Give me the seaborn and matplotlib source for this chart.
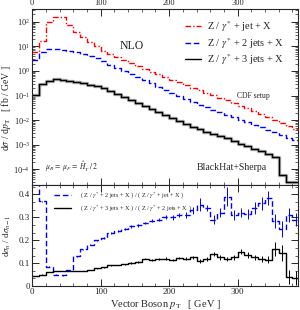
import numpy as np
import pandas as pd
import matplotlib
matplotlib.use("Agg")
import matplotlib.pyplot as plt
from matplotlib.ticker import MultipleLocator, AutoMinorLocator, LogLocator, NullFormatter
import seaborn as sns

# 10 GeV bins, 0 .. 390
edges = np.arange(0, 400, 10)

xs_1jet = [6, 16, 100, 160, 150, 75, 40, 24, 15, 10,
           6.6, 4.8, 3.6, 2.7, 2.1, 1.6, 1.2, 0.92, 0.72, 0.56,
           0.44, 0.35, 0.27, 0.21, 0.17, 0.13, 0.105, 0.081, 0.063, 0.049,
           0.038, 0.030, 0.023, 0.018, 0.0135, 0.0105, 0.008, 0.006, 0.0042]
xs_2jet = [2.8, 5.9, 7.5, 7.8, 7.2, 6.5, 5.7, 4.9, 4.1, 3.4,
           2.45, 1.8, 1.35, 1.0, 0.74, 0.55, 0.41, 0.31, 0.23, 0.17,
           0.13, 0.098, 0.072, 0.055, 0.042, 0.033, 0.026, 0.021, 0.0166, 0.0132,
           0.0105, 0.0083, 0.0066, 0.0051, 0.0040, 0.0032, 0.0025, 0.0019, 0.0015]
xs_3jet = [0.11, 0.29, 0.40, 0.45, 0.43, 0.39, 0.35, 0.31, 0.27, 0.24,
           0.20, 0.15, 0.115, 0.087, 0.066, 0.050, 0.038, 0.029, 0.022, 0.0166,
           0.0126, 0.0095, 0.0072, 0.0055, 0.0043, 0.0034, 0.0027, 0.0022, 0.0018, 0.0014,
           0.0011, 0.0009, 0.0007, 0.00054, 0.00042, 0.00032, 6e-5, 3e-5, 3e-5]

ratio_21 = [0.5, 0.37, 0.085, 0.05, 0.048, 0.07, 0.13, 0.16, 0.18, 0.20,
            0.21, 0.23, 0.24, 0.25, 0.26, 0.265, 0.275, 0.285, 0.29, 0.30,
            0.30, 0.31, 0.31, 0.33, 0.355, 0.34, 0.29, 0.32, 0.39, 0.31,
            0.32, 0.315, 0.34, 0.36, 0.385, 0.285, 0.25, 0.31, 0.29]
err_21 = [0.002, 0.002, 0.002, 0.002, 0.002, 0.002, 0.003, 0.003, 0.003, 0.003,
          0.004, 0.004, 0.004, 0.005, 0.005, 0.006, 0.006, 0.007, 0.008, 0.009,
          0.010, 0.010, 0.012, 0.014, 0.030, 0.015, 0.020, 0.018, 0.040, 0.020,
          0.020, 0.022, 0.025, 0.030, 0.030, 0.030, 0.035, 0.030, 0.030]
ratio_32 = [0.044, 0.05, 0.062, 0.065, 0.066, 0.066, 0.065, 0.066, 0.07, 0.078,
            0.082, 0.09, 0.092, 0.095, 0.10, 0.105, 0.12, 0.115, 0.118, 0.12,
            0.115, 0.122, 0.12, 0.125, 0.11, 0.118, 0.14, 0.125, 0.118, 0.125,
            0.15, 0.135, 0.125, 0.118, 0.115, 0.16, 0.145, 0.04, 0.035]
err_32 = [0.001, 0.001, 0.001, 0.001, 0.001, 0.001, 0.001, 0.001, 0.001, 0.002,
          0.002, 0.002, 0.002, 0.003, 0.003, 0.003, 0.004, 0.004, 0.004, 0.005,
          0.005, 0.005, 0.006, 0.006, 0.008, 0.008, 0.010, 0.010, 0.010, 0.010,
          0.012, 0.012, 0.012, 0.012, 0.015, 0.030, 0.035, 0.030, 0.030]

labels = [r"Z / $\gamma^{*}$ + jet + X",
          r"Z / $\gamma^{*}$ + 2 jets + X",
          r"Z / $\gamma^{*}$ + 3 jets + X"]
ratio_labels = [r"( Z / $\gamma^{*}$ + 2 jets + X ) / ( Z / $\gamma^{*}$ + jet + X )",
                r"( Z / $\gamma^{*}$ + 3 jets + X ) / ( Z / $\gamma^{*}$ + 2 jets + X )"]

sns.set_theme(style="ticks")
plt.rcParams["font.family"] = ["Liberation Serif", "DejaVu Serif"]
plt.rcParams["mathtext.fontset"] = "stix"


def steps(vals):
    # step histogram: repeat last value at the closing edge
    return pd.DataFrame({"x": edges, "y": list(vals) + [vals[-1]]})


fig = plt.figure(figsize=(3.0, 3.1), dpi=100)
ax = fig.add_axes([0.107, 0.403, 0.886, 0.568])
axr = fig.add_axes([0.107, 0.077, 0.886, 0.326])

# main panel
sns.lineplot(data=steps(xs_3jet), x="x", y="y", ax=ax, drawstyle="steps-post",
             color="#b0b0b0", lw=2.4, legend=False)
sns.lineplot(data=steps(xs_1jet), x="x", y="y", ax=ax, drawstyle="steps-post",
             color="red", lw=1.0, label=labels[0])
sns.lineplot(data=steps(xs_2jet), x="x", y="y", ax=ax, drawstyle="steps-post",
             color="blue", lw=1.0, label=labels[1])
sns.lineplot(data=steps(xs_3jet), x="x", y="y", ax=ax, drawstyle="steps-post",
             color="black", lw=1.0, label=labels[2])
ax.lines[1].set_dashes([4, 1.5, 1, 1.5])
ax.lines[2].set_dashes([4, 2])

ax.set_yscale("log")
ax.set_xlim(0, 388)
ax.set_ylim(2.3e-5, 330)
ax.set_xlabel("")
ax.set_ylabel(r"d$\sigma$ / d$p_{\rm T}$   [ fb / GeV ]", fontsize=7)
ax.yaxis.set_label_coords(-0.072, 0.44)
ax.xaxis.set_major_locator(MultipleLocator(100))
ax.xaxis.set_minor_locator(MultipleLocator(20))
ax.yaxis.set_major_locator(LogLocator(base=10, numticks=20))
ax.yaxis.set_minor_locator(LogLocator(base=10, subs=np.arange(2, 10), numticks=100))
ax.yaxis.set_minor_formatter(NullFormatter())
ax.tick_params(which="both", direction="in", top=True, right=True,
               labeltop=True, labelbottom=False, labelsize=6, pad=1.5)
ax.tick_params(which="major", length=5, width=0.7)
ax.tick_params(which="minor", length=2.5, width=0.5)
handles, _ = ax.get_legend_handles_labels()
ax.legend(handles[-3:], labels, loc="upper right", fontsize=7.5, frameon=False,
          handlelength=1.6, handletextpad=0.6, labelspacing=0.15,
          bbox_to_anchor=(0.985, 0.995))
ax.text(0.33, 0.77, "NLO", transform=ax.transAxes, fontsize=8.5)
ax.text(0.77, 0.495, "CDF setup", transform=ax.transAxes, fontsize=5.5)
ax.text(0.05, 0.09, r"$\mu_R\,=\,\mu_F\,=\,\hat{H}_T^{\prime}\,/\,2$",
        transform=ax.transAxes, fontsize=5.5)
ax.text(0.62, 0.085, "BlackHat+Sherpa", transform=ax.transAxes, fontsize=7)

# ratio panel
sns.lineplot(data=steps(ratio_21), x="x", y="y", ax=axr, drawstyle="steps-post",
             color="blue", lw=1.0, label=ratio_labels[0])
sns.lineplot(data=steps(ratio_32), x="x", y="y", ax=axr, drawstyle="steps-post",
             color="black", lw=1.0, label=ratio_labels[1])
axr.lines[0].set_dashes([4, 2])
centers = edges[:-1] + 5
axr.errorbar(centers, ratio_21, yerr=err_21, fmt="none", ecolor="blue", elinewidth=0.7)
axr.errorbar(centers, ratio_32, yerr=err_32, fmt="none", ecolor="black", elinewidth=0.7)
axr.set_xlim(0, 388)
axr.set_ylim(0, 0.44)
axr.set_xlabel(r"Vector Boson $p_{\rm T}$   [ GeV ]", fontsize=7.5, labelpad=1)
axr.set_ylabel(r"d$\sigma_n$ / d$\sigma_{n-1}$", fontsize=6.5)
axr.yaxis.set_label_coords(-0.072, 0.5)
axr.xaxis.set_major_locator(MultipleLocator(100))
axr.xaxis.set_minor_locator(MultipleLocator(20))
axr.yaxis.set_major_locator(MultipleLocator(0.1))
axr.yaxis.set_minor_locator(AutoMinorLocator(3))
axr.tick_params(which="both", direction="in", top=True, right=True,
                labelsize=6.5, pad=1.5)
axr.tick_params(which="major", length=5, width=0.7)
axr.tick_params(which="minor", length=2.5, width=0.5)
axr.yaxis.set_major_formatter(plt.FuncFormatter(lambda v, p: "0" if v == 0 else f"{v:.1f}"))
axr.legend(loc="upper left", fontsize=4.5, frameon=False, handlelength=2.8,
           handletextpad=1.4, labelspacing=0.35, bbox_to_anchor=(0.06, 1.0))

for a in (ax, axr):
    for s in a.spines.values():
        s.set_linewidth(0.8)

fig.savefig("out.png", dpi=100)
